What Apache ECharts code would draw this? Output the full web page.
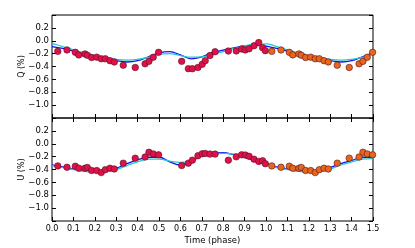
<!DOCTYPE html>
<html><head><meta charset="utf-8">
<script src="https://cdn.jsdelivr.net/npm/echarts@6/dist/echarts.min.js"></script>
<style>html,body{margin:0;padding:0;background:#fff}#c{width:415px;height:248px}</style>
</head><body><div id="c"></div>
<script>
// ---- data ----
var xTickLabels = ['0.0','0.1','0.2','0.3','0.4','0.5','0.6','0.7','0.8','0.9','1.0','1.1','1.2','1.3','1.4','1.5'];
var yTickLabels = ['0.2','0.0','\u22120.2','\u22120.4','\u22120.6','\u22120.8','\u22121.0'];

var phaseObs = [0.027,0.070,0.109,0.125,0.154,0.165,0.185,0.209,0.230,0.249,0.271,0.291,0.333,0.389,0.435,0.453,0.473,0.498,0.606,0.637,0.656,0.682,0.702,0.716,0.738,0.762,0.824,0.861,0.886,0.903,0.921,0.944,0.966,0.984,0.997];
var qObs = [-0.165,-0.143,-0.18,-0.22,-0.205,-0.225,-0.26,-0.255,-0.28,-0.28,-0.31,-0.33,-0.38,-0.415,-0.358,-0.32,-0.257,-0.18,-0.32,-0.434,-0.434,-0.415,-0.366,-0.31,-0.23,-0.17,-0.16,-0.158,-0.128,-0.143,-0.125,-0.077,-0.028,-0.108,-0.154];
var uObs = [-0.344,-0.365,-0.349,-0.38,-0.38,-0.368,-0.415,-0.417,-0.448,-0.403,-0.38,-0.392,-0.302,-0.224,-0.206,-0.132,-0.158,-0.172,-0.339,-0.302,-0.255,-0.186,-0.156,-0.151,-0.161,-0.161,-0.255,-0.203,-0.172,-0.175,-0.195,-0.24,-0.274,-0.265,-0.31];

var phaseRep = [1.027,1.070,1.109,1.125,1.154,1.165,1.185,1.209,1.230,1.249,1.271,1.291,1.333,1.389,1.435,1.453,1.473,1.498];
var qRep = [-0.165,-0.143,-0.18,-0.22,-0.205,-0.225,-0.26,-0.255,-0.28,-0.28,-0.31,-0.33,-0.38,-0.415,-0.358,-0.32,-0.257,-0.18];
var uRep = [-0.344,-0.365,-0.349,-0.38,-0.38,-0.368,-0.415,-0.417,-0.448,-0.403,-0.38,-0.392,-0.302,-0.224,-0.206,-0.132,-0.158,-0.172];

var phaseModel = [0,0.05,0.10,0.15,0.20,0.25,0.30,0.35,0.40,0.45,0.50,0.55,0.60,0.65,0.70,0.75,0.80,0.85,0.90,0.95,1.00,1.05,1.10,1.15,1.20,1.25,1.30,1.35,1.40,1.45,1.50];
var qModelA = [-0.09,-0.12,-0.16,-0.20,-0.24,-0.28,-0.31,-0.33,-0.31,-0.25,-0.19,-0.17,-0.22,-0.28,-0.25,-0.185,-0.145,-0.11,-0.08,-0.065,-0.085,-0.12,-0.16,-0.20,-0.24,-0.28,-0.31,-0.33,-0.31,-0.25,-0.19];
var qModelB = [-0.04,-0.09,-0.14,-0.19,-0.23,-0.26,-0.29,-0.30,-0.29,-0.26,-0.21,-0.20,-0.23,-0.255,-0.25,-0.21,-0.17,-0.12,-0.08,-0.06,-0.05,-0.09,-0.14,-0.19,-0.23,-0.26,-0.29,-0.30,-0.29,-0.26,-0.20];
var uModelA = [-0.33,-0.36,-0.39,-0.41,-0.43,-0.42,-0.38,-0.31,-0.25,-0.21,-0.21,-0.28,-0.33,-0.28,-0.18,-0.15,-0.14,-0.17,-0.21,-0.26,-0.31,-0.36,-0.39,-0.41,-0.43,-0.43,-0.37,-0.31,-0.26,-0.21,-0.21];
var uModelB = [-0.34,-0.37,-0.40,-0.43,-0.44,-0.43,-0.40,-0.34,-0.28,-0.24,-0.24,-0.27,-0.29,-0.26,-0.19,-0.16,-0.15,-0.16,-0.19,-0.25,-0.30,-0.37,-0.40,-0.43,-0.44,-0.43,-0.39,-0.33,-0.28,-0.24,-0.23];

// ---- helpers ----
function pairs(xs, ys){ return xs.map(function(x,i){ return [x, ys[i]]; }); }
var FONT = 'DejaVu Sans';
function yFmt(v){
  var k = Math.round((0.2 - v) / 0.2);
  return (k >= 0 && k < yTickLabels.length) ? yTickLabels[k] : '';
}
function xFmt(v){
  var k = Math.round(v / 0.1);
  return (k >= 0 && k < xTickLabels.length) ? xTickLabels[k] : '';
}
var tick = {show:true, inside:true, length:4, lineStyle:{color:'#000', width:1}};
function xAx(grid, pos, labels, name){
  return {type:'value', gridIndex:grid, position:pos, min:0, max:1.5, interval:0.1,
    axisLine:{show:false, onZero:false}, axisTick:tick, splitLine:{show:false},
    axisLabel:{show:labels, formatter:xFmt, color:'#000', fontFamily:FONT, fontSize:8, margin:4},
    name:name||'', nameLocation:'middle', nameGap:15, nameMoveOverlap:false,
    nameTextStyle:{color:'#000', fontFamily:FONT, fontSize:8.5}};
}
function yAx(grid, pos, labels, name){
  return {type:'value', gridIndex:grid, position:pos, min:-1.2, max:0.4, interval:0.2,
    axisLine:{show:false, onZero:false}, axisTick:tick, splitLine:{show:false},
    axisLabel:{show:labels, formatter:yFmt, color:'#000', fontFamily:FONT, fontSize:8.5, margin:3},
    name:name||'', nameLocation:'middle', nameGap:26, nameRotate:90, nameMoveOverlap:false,
    nameTextStyle:{color:'#000', fontFamily:FONT, fontSize:8}};
}
function lineS(xi, yi, data, color){
  return {type:'line', xAxisIndex:xi, yAxisIndex:yi, data:data, smooth:0.4, showSymbol:false,
    lineStyle:{color:color, width:1.3}, itemStyle:{color:color}, z:2, silent:true};
}
function scat(xi, yi, data, color){
  return {type:'scatter', xAxisIndex:xi, yAxisIndex:yi, data:data, symbolSize:6.5,
    itemStyle:{color:color, borderColor:'#5a1020', borderWidth:0.6, opacity:1}, z:3, silent:true};
}

var chart = echarts.init(document.getElementById('c'), null, {renderer:'canvas'});
chart.setOption({
  animation:false,
  backgroundColor:'#fff',
  grid:[
    {left:52, right:42, top:15, height:103, show:true, borderColor:'#000', borderWidth:1, backgroundColor:'transparent'},
    {left:52, right:42, top:118, height:103, show:true, borderColor:'#000', borderWidth:1, backgroundColor:'transparent'}
  ],
  xAxis:[ xAx(0,'bottom',false), xAx(1,'bottom',true,'Time (phase)'), xAx(1,'top',false) ],
  yAxis:[ yAx(0,'left',true,'Q (%)'), yAx(0,'right',false), yAx(1,'left',true,'U (%)'), yAx(1,'right',false) ],
  series:[
    lineS(0,0,pairs(phaseModel,qModelA),'#1010f0'),
    lineS(0,0,pairs(phaseModel,qModelB),'#22c8d0'),
    scat(0,0,pairs(phaseObs,qObs),'#e0104a'),
    scat(0,0,pairs(phaseRep,qRep),'#e8661a'),
    lineS(1,2,pairs(phaseModel,uModelA),'#1010f0'),
    lineS(1,2,pairs(phaseModel,uModelB),'#22c8d0'),
    scat(1,2,pairs(phaseObs,uObs),'#e0104a'),
    scat(1,2,pairs(phaseRep,uRep),'#e8661a')
  ]
});
</script></body></html>
